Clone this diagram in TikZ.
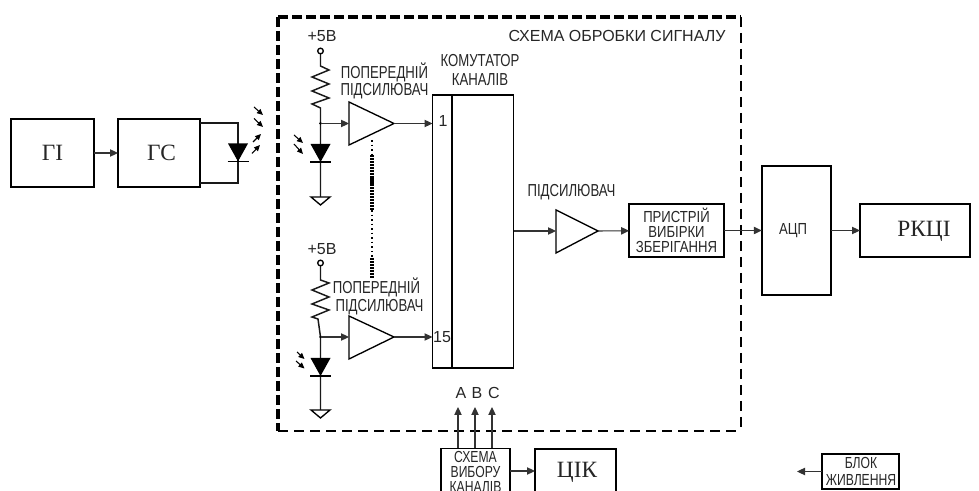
\documentclass[tikz,border=0pt]{standalone}
\usepackage{fontspec}
\setmainfont{Liberation Serif}
\setsansfont{Liberation Sans}
\newfontfamily\cond[FakeStretch=0.76]{Liberation Sans}
\newfontfamily\condb[FakeStretch=0.82]{Liberation Sans}
\newfontfamily\condc[FakeStretch=0.76]{Liberation Sans}
\usetikzlibrary{arrows.meta}
\tikzset{
  px/.style={x=0.75pt,y=-0.75pt},
  blk/.style={draw=black,line width=1.2pt,fill=white,inner sep=0pt,outer sep=0pt},
  con/.style={draw=black!80,line width=0.8pt,-{Triangle[length=6pt,width=5.5pt]},shorten >=0pt},
  wire/.style={draw=black!90,line width=0.9pt},
  ray/.style={draw=black,line width=0.8pt,-{Triangle[length=4.5pt,width=4pt]}},
  amp/.style={draw=black,line width=1pt,fill=white,line join=miter},
  lab/.style={font=\cond\fontsize{13}{13}\selectfont,inner sep=0pt,text=black!85},
  lab2/.style={font=\condb\fontsize{12}{12}\selectfont,inner sep=0pt,text=black!85},
  lab3/.style={font=\condc\fontsize{12}{12}\selectfont,inner sep=0pt,text=black!85},
  sans/.style={font=\sffamily\fontsize{12}{12}\selectfont,inner sep=0pt,text=black!85},
  big/.style={font=\rmfamily\fontsize{17.5}{18}\selectfont,inner sep=0pt,text=black!85},
  diodepic/.pic={
    \fill[black] (-10,-18) -- (10,-18) -- (0,0) -- cycle;
    \draw[black,line width=1.1pt] (-10.5,0) -- (10.5,0);
  },
  gndpic/.pic={
    \draw[black,line width=1pt,fill=white] (-9.5,0) -- (9.5,0) -- (0,8) -- cycle;
  },
  termpic/.pic={
    \draw[black,line width=1pt,fill=white] (0,0) circle (2.8);
  }
}
\begin{document}
\begin{tikzpicture}[px]
\useasboundingbox (0,0) rectangle (979,491);
\clip (0,0) rectangle (979,491);
\fill[white] (0,0) rectangle (979,491);

% dashed frame
\coordinate (fTL) at (278,17);
\coordinate (fTR) at (741,17);
\coordinate (fBR) at (741,431);
\coordinate (fBL) at (278,431);
\draw[black,line width=2.6pt,dash pattern=on 7.5pt off 3pt] (fTL) -- (fTR);
\draw[black,line width=2.6pt,dash pattern=on 7.5pt off 3pt] (fTL) -- (fBL);
\draw[black,line width=1.7pt,dash pattern=on 7.5pt off 4.5pt] (fBL) -- (fBR);
\draw[black,line width=1.5pt,dash pattern=on 7.5pt off 4.5pt] (fTR) -- (fBR);
\node[sans,anchor=center] (ftitle) at (617,36) {СХЕМА ОБРОБКИ СИГНАЛУ};

% source blocks
\node[blk,minimum width=62pt,minimum height=51pt,big] (gi) at (52.5,153) {ГІ};
\node[blk,minimum width=61.5pt,minimum height=51pt] (gs) at (159,153) {};
\node[big,anchor=center] (gst) at (161.5,153) {ГС};
\draw[con] (gi) -- (gs);
\coordinate (led) at (238,161.5);
\coordinate (ledT) at (238,123);
\coordinate (ledB) at (238,183);
\coordinate (gsT) at (200,123);
\coordinate (gsB) at (200,183);
\draw[wire,line width=1.1pt] (gsT) -- (ledT) -- (ledB) -- (gsB);
\pic at (led) {diodepic};
\draw[ray] (254,107) -- (263,115);
\draw[ray] (254,118.5) -- (263,127);
\draw[ray] (253,142) -- (261,134);
\draw[ray] (252,153.5) -- (260,145);

% channel 1
\node[sans,anchor=center] (v1) at (322,36) {+5В};
\coordinate (t1) at (320.5,51);
\coordinate (r1a) at (320.5,66);
\coordinate (r1b) at (320.5,108);
\coordinate (n1) at (320.5,123.5);
\coordinate (d1) at (320.5,162);
\coordinate (g1) at (320.5,197);
\draw[wire,line width=1.1pt] (t1) -- (r1a) -- (329,70) -- (312,77) -- (329,84) -- (312,91) -- (329,98) -- (312,104) -- (r1b) -- (n1) -- (g1);
\pic at (t1) {termpic};
\pic at (d1) {diodepic};
\pic at (g1) {gndpic};
\draw[ray] (294,135) -- (303,143);
\draw[ray] (294,144) -- (303,154);
\fill[black] (n1) circle (1.5);
\coordinate (a1in) at (349,123.5);
\coordinate (a1out) at (394,123.5);
\draw[amp] (349,102) -- (a1out) -- (349,145) -- cycle;
\draw[con] (n1) -- (a1in);
\node[lab,anchor=center] (l1a) at (384.5,72) {ПОПЕРЕДНІЙ};
\node[lab,anchor=center] (l1b) at (384.5,91) {ПІДСИЛЮВАЧ};

% channel 15
\node[sans,anchor=center] (v2) at (322,249) {+5В};
\coordinate (t2) at (320.5,263);
\coordinate (r2a) at (320.5,280);
\coordinate (r2b) at (318,319);
\coordinate (n2) at (320.5,337);
\coordinate (d2) at (320.5,376);
\coordinate (g2) at (320.5,410);
\draw[wire,line width=1.1pt] (t2) -- (r2a) -- (329,283) -- (312,290) -- (329,297) -- (312,304) -- (329,310) -- (312,317) -- (r2b) -- (n2) -- (g2);
\pic at (t2) {termpic};
\pic at (d2) {diodepic};
\pic at (g2) {gndpic};
\draw[ray] (297,352) -- (304.5,359);
\draw[ray] (296,361) -- (304.5,368.5);
\fill[black] (n2) circle (1.5);
\coordinate (a2in) at (349,337);
\coordinate (a2out) at (394,337);
\draw[amp] (349,316) -- (a2out) -- (349,359) -- cycle;
\draw[con] (n2) -- (a2in);
\node[lab,anchor=center] (l2a) at (376.5,287) {ПОПЕРЕДНІЙ};
\node[lab,anchor=center] (l2b) at (379.5,307) {ПІДСИЛЮВАЧ};

% dotted link between channels
\coordinate (dA) at (372,140);
\coordinate (dB) at (372,155);
\coordinate (dC) at (372,210);
\coordinate (dD) at (372,258);
\coordinate (dE) at (372,278);
\draw[black,line width=1.1pt,dash pattern=on 1.2pt off 2.2pt] (dA) -- (dB);
\draw[black,line width=2.6pt,dash pattern=on 1.6pt off 0.6pt] (dB) -- (dC);
\draw[black,line width=1.1pt,dash pattern=on 1.2pt off 2.2pt] (dC) -- (dD);
\draw[black,line width=2.6pt,dash pattern=on 1.6pt off 0.6pt] (dD) -- (dE);

% commutator
\node[blk,minimum width=60.75pt,minimum height=204.75pt] (kom) at (473,231.5) {};
\draw[black,line width=1.2pt] (452,95) -- (452,368);
\coordinate (kin1) at (432.5,123.5);
\coordinate (kin2) at (432.5,337);
\coordinate (kout) at (513.5,231);
\draw[con] (a1out) -- (kin1);
\draw[con] (a2out) -- (kin2);
\node[sans,anchor=center] (c1) at (443,121) {1};
\node[sans,anchor=center] (c15) at (442,337) {15};
\node[lab,anchor=center] (kt1) at (480,61) {КОМУТАТОР};
\node[lab,anchor=center] (kt2) at (480,80) {КАНАЛІВ};

% amplifier
\node[lab,anchor=center] (ampl) at (571.5,192) {ПІДСИЛЮВАЧ};
\coordinate (a3in) at (556,231);
\coordinate (a3out) at (598,231);
\draw[amp] (556,210) -- (a3out) -- (556,253) -- cycle;
\draw[con] (kout) -- (a3in);

\node[blk,minimum width=71pt,minimum height=39.5pt] (vz) at (676.5,230.5) {};
\node[lab2,anchor=center] (vz1) at (676.5,215) {ПРИСТРІЙ};
\node[lab2,anchor=center] (vz2) at (676.5,232) {ВИБІРКИ};
\node[lab2,anchor=center] (vz3) at (676.5,246.5) {ЗБЕРІГАННЯ};
\draw[con] (a3out) -- (vz);

\node[blk,minimum width=52pt,minimum height=97pt] (adc) at (796.5,230.5) {};
\node[lab2,anchor=center] (adct) at (793,231) {АЦП};
\draw[con] (vz) -- (adc);
\node[blk,minimum width=82.5pt,minimum height=39.5pt] (rk) at (915,230.5) {};
\node[big,anchor=center] (rkt) at (924,231) {РКЦІ};
\draw[con] (adc) -- (rk);

% selector
\node[sans,anchor=center] (la) at (461,393) {A};
\node[sans,anchor=center] (lb) at (477,393) {B};
\node[sans,anchor=center] (lc) at (494,393) {C};
\node[blk,minimum width=52pt,minimum height=40pt] (sel) at (475.5,475) {};
\node[lab3,anchor=center] (s1) at (475.5,457) {СХЕМА};
\node[lab3,anchor=center] (s2) at (475.5,472) {ВИБОРУ};
\node[lab3,anchor=center] (s3) at (475.5,487) {КАНАЛІВ};
\coordinate (ca) at (458,407);
\coordinate (cb) at (475,407);
\coordinate (cc) at (492,407);
\draw[con] (sel.north -| ca) -- (ca);
\draw[con] (sel.north -| cb) -- (cb);
\draw[con] (sel.north -| cc) -- (cc);
\node[blk,minimum width=61pt,minimum height=40pt] (cik) at (575.5,475.5) {};
\node[big,anchor=center] (cikt) at (577,472.5) {ЦІК};
\coordinate (seln) at (510,471);
\coordinate (cikn) at (535,471);
\draw[con] (seln) -- (cikn);

% power
\node[blk,minimum width=58pt,minimum height=26pt] (pw) at (860.5,471.5) {};
\node[lab3,anchor=center] (p1) at (861,463) {БЛОК};
\node[lab3,anchor=center] (p2) at (861,480) {ЖИВЛЕННЯ};
\coordinate (pwfree) at (797,471.5);
\draw[con] (pw) -- (pwfree);
\end{tikzpicture}
\end{document}
